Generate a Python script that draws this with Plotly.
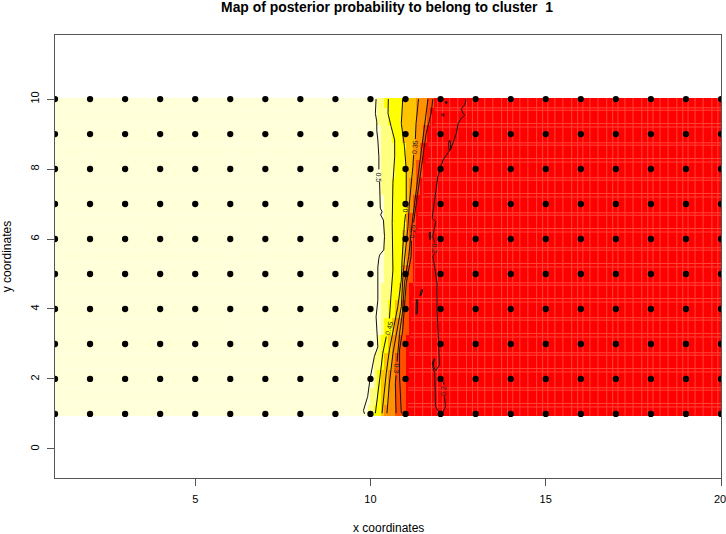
import plotly.graph_objects as go

# grid of sampling points
grid_x = list(range(1, 21))
grid_y = list(range(1, 11))

# posterior map: x of each colour-band boundary, per y row
band_y = [1, 1.5, 2, 2.5, 3, 3.5, 4, 4.5, 5, 5.5, 6, 6.5, 7, 7.5, 8, 8.5, 9, 9.5, 10]
band_edges_y = [0.95, 1.25, 1.75, 2.25, 2.75, 3.25, 3.75, 4.25, 4.75, 5.25, 5.75, 6.25, 6.75, 7.25, 7.75, 8.25, 8.75, 9.25, 9.75, 10.03]
band_x = [
    [9.90, 10.11, 10.26, 10.43, 10.68, 10.97],
    [9.97, 10.16, 10.28, 10.47, 10.69, 10.97],
    [10.05, 10.21, 10.35, 10.52, 10.71, 10.99],
    [10.14, 10.28, 10.43, 10.56, 10.75, 11.00],
    [10.21, 10.35, 10.52, 10.64, 10.81, 11.02],
    [10.26, 10.43, 10.62, 10.73, 10.88, 11.05],
    [10.30, 10.50, 10.75, 10.88, 10.94, 11.07],
    [10.35, 10.56, 10.83, 10.88, 10.97, 11.11],
    [10.40, 10.59, 10.88, 10.92, 11.00, 11.16],
    [10.40, 10.62, 10.88, 10.97, 11.07, 11.16],
    [10.40, 10.62, 10.92, 10.97, 11.10, 11.21],
    [10.40, 10.62, 10.97, 11.04, 11.13, 11.26],
    [10.40, 10.64, 11.00, 11.10, 11.21, 11.35],
    [10.35, 10.64, 11.00, 11.11, 11.29, 11.42],
    [10.35, 10.66, 11.00, 11.19, 11.35, 11.48],
    [10.35, 10.69, 10.97, 11.21, 11.42, 11.54],
    [10.30, 10.59, 10.92, 11.26, 11.51, 11.64],
    [10.21, 10.47, 10.88, 11.30, 11.57, 11.73],
    [10.21, 10.45, 10.88, 11.35, 11.64, 11.83],
]
band_colors = ["#FFFFD8", "#FFFF80", "#FFFF00", "#FFC400", "#FF9200", "#FF5000", "#FF0000"]

# contour lines: (x, y); None marks a label gap
c50_x = [10.16, 10.14, 10.18, 10.18, 10.21, 10.24, 10.24, None, 10.26, 10.26, 10.28, 10.33, 10.29, 10.37, 10.40, 10.38, 10.26, 10.24, 10.21, 10.21, 10.21, 10.16, 10.18, 10.21, 10.11, 9.99, 9.92, 9.80, 9.83]
c50_y = [10, 9.59, 9.35, 9.11, 8.83, 8.35, 7.99, None, 7.64, 7.21, 6.88, 6.78, 6.69, 6.54, 6.07, 5.69, 5.54, 5.45, 5.2, 4.92, 4.25, 3.78, 3.2, 2.92, 2.64, 2.02, 1.5, 1.1, 1.0]
c45_x = [10.51, 10.50, 10.59, 10.69, 10.69, 10.64, 10.62, 10.62, 10.64, 10.59, 10.54, None, 10.45, 10.35, 10.26, 10.14]
c45_y = [10, 9.59, 9.21, 8.83, 8.35, 7.59, 6.45, 5.4, 5.11, 4.45, 3.73, None, 3.21, 2.73, 1.97, 1.02]
c40_x = [10.92, 10.88, 10.97, 11.02, 11.02, None, 11.0, 10.97, 10.9, 10.88, 10.78, 10.64, 10.54, 10.45, 10.33]
c40_y = [10, 9.30, 8.64, 7.97, 7.07, None, 6.71, 6.45, 5.4, 4.83, 4.07, 3.3, 2.83, 2.16, 1.02]
c35_x = [11.37, 11.30, 11.28, None, 11.23, 11.21, 11.11, 11.07, 10.97, 10.92, 10.88, 10.73, 10.64, 10.54, 10.47]
c35_y = [10, 9.30, 8.85, None, 8.4, 8.07, 7.02, 6.35, 5.4, 4.83, 4.07, 3.3, 2.73, 1.88, 1.02]
c30_x = [11.64, 11.54, 11.45, 11.35, 11.21, 11.09, 10.97, 10.92, 10.83, 10.76, None, 10.73, 10.71, 10.73]
c30_y = [10, 9.21, 8.54, 7.78, 6.64, 5.5, 4.73, 3.97, 3.3, 2.5, None, 2.1, 1.88, 1.02]
c25_x = [11.78, 11.73, 11.59, 11.50, 11.40, 11.28, 11.23, None, 11.17, 11.16, 11.02, 10.97, 10.92, 10.83, 10.83, 10.88]
c25_y = [10, 9.59, 9.02, 8.35, 7.59, 6.78, 6.47, None, 5.95, 5.5, 4.73, 3.97, 3.4, 2.83, 2.06, 1.02]
c20_x = [12.73, 12.69, 12.59, 12.64, 12.69, 12.59, 12.50, 12.45, 12.30, 12.21, 12.07, 11.92, 11.88, 11.83, 11.76, 11.86, 11.78, 11.83, None, 11.83, 11.78, 11.83, 11.90, 11.90, 11.95, 11.97, 11.86, 11.76, 11.83, 11.78, 11.83, 11.86, 11.97]
c20_y = [10, 9.83, 9.73, 9.59, 9.54, 9.45, 9.30, 9.02, 8.59, 8.45, 8.26, 7.78, 7.5, 7.21, 6.59, 6.5, 6.07, 5.9, None, 5.59, 5.5, 5.21, 4.73, 3.97, 3.02, 2.40, 2.24, 2.45, 2.59, 2.35, 2.16, 1.21, 1.02]
c20b_x = [11.99, 12.09, 12.10, None, 12.11, 12.14, 12.05]
c20b_y = [1.97, 1.9, 1.83, None, 1.5, 1.21, 1.02]
loop_x = [12.03, 12.07, 12.11, 12.07, 12.03, None, 12.23, 12.26, 12.29, 12.28, 12.24, 12.23, None, 11.67, 11.70, 11.72, 11.70, 11.67, None, 11.41, 11.45, 11.49, 11.45, 11.41, None, 11.30, 11.34, 11.35, 11.31, 11.30]
loop_y = [9.54, 9.59, 9.54, 9.50, 9.54, None, 8.75, 8.83, 8.7, 8.55, 8.55, 8.75, None, 6.15, 6.2, 6.05, 5.98, 6.15, None, 4.38, 4.55, 4.55, 4.40, 4.38, None, 3.85, 3.88, 4.25, 4.27, 3.85]
speck_x = [12.16]
speck_y = [9.9]

contour_lines = [(c50_x, c50_y), (c45_x, c45_y), (c40_x, c40_y), (c35_x, c35_y), (c30_x, c30_y),
                 (c25_x, c25_y), (c20_x, c20_y), (c20b_x, c20b_y), (loop_x, loop_y)]

# contour labels
label_text = ["0.5", "0.45", "0.4", "0.35", "0.3", "0.25", "0.2", "0.2"]
label_x = [10.24, 10.52, 11.01, 11.26, 10.74, 11.20, 11.83, 12.10]
label_y = [7.76, 3.45, 6.90, 8.62, 2.29, 6.21, 5.74, 1.66]
label_angle = [90, -75, -90, -85, 90, -85, 90, -90]

# faint lighter seams of the image raster
seam_x_offsets = [0.06, 0.26, 0.49, 0.74, 0.91]
seam_y_offsets = [0.2, 0.3, 0.68, 0.75]
partial_seam_x = [11.26, 11.49, 11.74, 11.91]
partial_seam_top = [6.6, 8.0, 9.6, 10.03]

x_ticks = [5, 10, 15, 20]
x_tick_text = ["5", "10", "15", ""]
y_ticks = [0, 2, 4, 6, 8, 10]
last_x_tick_text = "20"
title_text = "Map of posterior probability to belong to cluster  1"
x_label = "x coordinates"
y_label = "y coordinates"

FONT = "Liberation Sans, Arial, sans-serif"
AXIS = "#555555"

# heatmap columns
col_edges = [1 + i * 0.1 for i in range(191)]
col_mid = [e + 0.05 for e in col_edges[:-1]]
z = [[sum(1 for b in row if xc > b) for xc in col_mid] for row in band_x]
n = len(band_colors)
scale = []
for i, c in enumerate(band_colors):
    scale += [[i / n, c], [(i + 1) / n, c]]

fig = go.Figure()
fig.add_trace(go.Heatmap(x=col_edges, y=band_edges_y, z=z, zmin=-0.5, zmax=6.5,
                         colorscale=scale, showscale=False, hoverinfo="skip"))

y_lo, y_hi = band_edges_y[0], band_edges_y[-1]
seam_y = [k + o for k in range(1, 10) for o in seam_y_offsets]

# red-area seams
sx, sy = [], []
for k in range(12, 20):
    for o in seam_x_offsets:
        sx += [k + o, k + o, None]
        sy += [y_lo, y_hi, None]
for v, top in zip(partial_seam_x, partial_seam_top):
    sx += [v, v, None]
    sy += [y_lo, top, None]
for v in seam_y:
    start = band_x[min(range(len(band_y)), key=lambda k: abs(band_y[k] - v))][5] + 0.1
    sx += [start, 20, None]
    sy += [v, v, None]
fig.add_trace(go.Scatter(x=sx, y=sy, mode="lines", line=dict(color="#FF4438", width=1), hoverinfo="skip"))

# pale-area seams
px, py = [], []
for k in range(1, 10):
    for o in seam_x_offsets:
        px += [k + o, k + o, None]
        py += [y_lo, y_hi, None]
for v in seam_y:
    px += [1, 9.8, None]
    py += [v, v, None]
fig.add_trace(go.Scatter(x=px, y=py, mode="lines", line=dict(color="#FFFFE0", width=1), hoverinfo="skip"))

for cx, cy in contour_lines:
    fig.add_trace(go.Scatter(x=cx, y=cy, mode="lines", line=dict(color="#111111", width=1), hoverinfo="skip"))

fig.add_trace(go.Scatter(x=speck_x, y=speck_y, mode="markers", marker=dict(color="black", size=2.5), hoverinfo="skip"))
fig.add_trace(go.Scatter(x=[a for _ in grid_y for a in grid_x], y=[b for b in grid_y for _ in grid_x],
                         mode="markers", marker=dict(color="black", size=6.3), hoverinfo="skip"))

for t, lx, ly, a in zip(label_text, label_x, label_y, label_angle):
    fig.add_annotation(x=lx, y=ly, text=t, showarrow=False, textangle=a,
                       font=dict(family=FONT, size=7, color="#222222"))

fig.add_annotation(xref="paper", yref="paper", x=0.5, y=-0.112, yanchor="middle", text=x_label, showarrow=False,
                   font=dict(family=FONT, size=12, color="black"))
fig.add_annotation(xref="paper", yref="paper", x=-0.0725, y=0.5, xanchor="center", text=y_label, textangle=-90, showarrow=False,
                   font=dict(family=FONT, size=12, color="black"))
fig.add_annotation(xref="paper", yref="paper", x=1, y=-0.0485, yanchor="middle", xanchor="center", xshift=-1,
                   text=last_x_tick_text, showarrow=False, font=dict(family=FONT, size=11, color="black"))

axis = dict(showgrid=False, zeroline=False, showline=True, mirror=True, linecolor=AXIS, linewidth=1,
            ticks="outside", ticklen=7, tickcolor=AXIS, tickwidth=1, ticklabelstandoff=4,
            tickfont=dict(family=FONT, size=11, color="black"))
fig.update_layout(
    width=726, height=534, margin=dict(l=55, r=5, t=35, b=56), autosize=False,
    paper_bgcolor="white", plot_bgcolor="white", showlegend=False,
    title=dict(text="<b>" + title_text + "</b>", x=387 / 726, xanchor="center", xref="container",
               y=1 - 7 / 534, yanchor="middle", yref="container", font=dict(family=FONT, size=13.9, color="black")),
    xaxis=dict(axis, range=[1, 20], tickvals=x_ticks, ticktext=x_tick_text),
    yaxis=dict(axis, range=[-0.83, 11.83], tickvals=y_ticks, tickangle=-90),
)
fig.write_html("out.html", config={"displayModeBar": False},
               post_script="document.body.style.margin='0';document.documentElement.style.overflow='hidden';")
